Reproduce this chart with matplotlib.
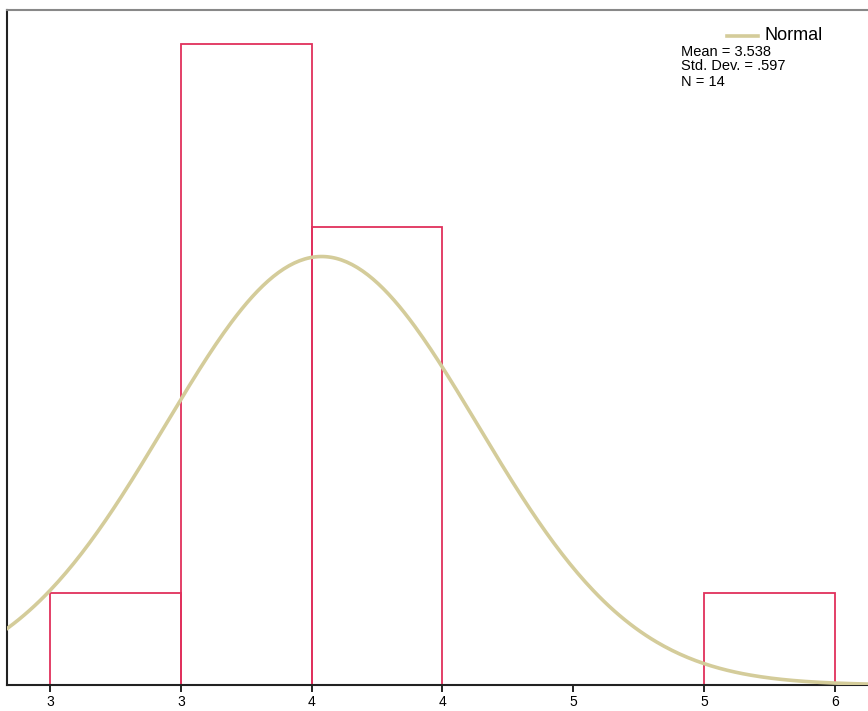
import numpy as np
import matplotlib.pyplot as plt

plt.rcParams['font.family'] = ['Liberation Sans', 'DejaVu Sans']

# histogram data
bin_edges = [2.5, 3.0, 3.5, 4.0, 4.5, 5.0, 5.5]
counts = [1, 7, 5, 0, 0, 1]
mean = 3.538
sd = 0.597
n = 14
tick_vals = [2.5, 3.0, 3.5, 4.0, 4.5, 5.0, 5.5]
tick_labels = ['3', '3', '4', '4', '5', '5', '6']

fig = plt.figure(figsize=(8.68, 7.11), dpi=100)
ax = fig.add_axes([7/868, 1 - 685/711, 1.0, 675/711])

bar_col = '#e0305c'
curve_col = '#d4cc9a'

for i, c in enumerate(counts):
    if c > 0:
        ax.bar(bin_edges[i], c, width=bin_edges[i+1] - bin_edges[i], align='edge',
               facecolor='none', edgecolor=bar_col, linewidth=1.3, zorder=2)

width = bin_edges[1] - bin_edges[0]
xs = np.linspace(2.0, 6.0, 400)
ys = n * width * np.exp(-0.5 * ((xs - mean) / sd) ** 2) / (sd * np.sqrt(2 * np.pi))
ax.plot(xs, ys, color=curve_col, linewidth=2.6, zorder=3)

ax.set_xlim(2.3357, 2.3357 + 868/261.67)
ax.set_ylim(0, 675/91.6)
ax.set_xticks(tick_vals)
ax.set_xticklabels(tick_labels, fontsize=10)
ax.set_yticks([])
ax.tick_params(axis='x', direction='out', length=5, width=1.2, pad=2)

ax.spines['left'].set_color('#222222')
ax.spines['left'].set_linewidth(1.5)
ax.spines['bottom'].set_color('#222222')
ax.spines['bottom'].set_linewidth(1.5)
ax.spines['top'].set_color('#888888')
ax.spines['top'].set_linewidth(1.5)
ax.spines['right'].set_visible(False)

# legend and stats
fig.lines.append(plt.Line2D([727/868, 758/868], [1 - 35.5/711, 1 - 35.5/711],
                            color=curve_col, linewidth=2.6, transform=fig.transFigure))
fig.text(764/868, 1 - 35.5/711, 'Normal', fontsize=13, va='center', ha='left')
fig.text(681/868, 1 - 51.5/711, 'Mean = 3.538', fontsize=10.5, va='center', ha='left')
fig.text(681/868, 1 - 66.5/711, 'Std. Dev. = .597', fontsize=10.5, va='center', ha='left')
fig.text(681/868, 1 - 81.5/711, 'N = 14', fontsize=10.5, va='center', ha='left')

plt.savefig('out.png', dpi=100)
